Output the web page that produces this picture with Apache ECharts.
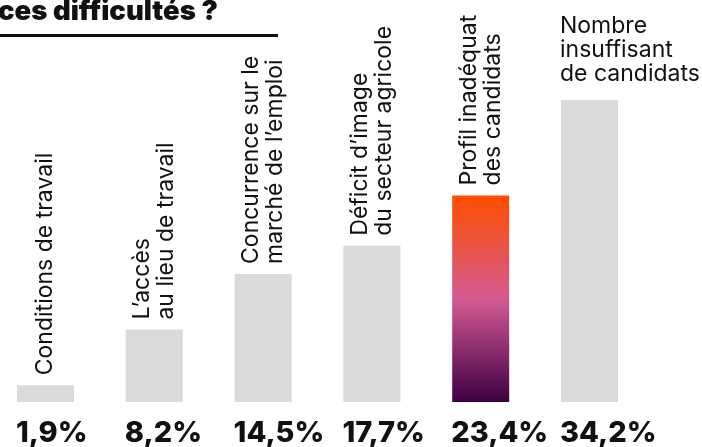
<!DOCTYPE html>
<html>
<head>
<meta charset="utf-8">
<style>
  html, body { margin: 0; padding: 0; background: #ffffff; }
  #chart { width: 702px; height: 447px; }
</style>
<script src="https://cdn.jsdelivr.net/npm/echarts@6/dist/echarts.min.js"></script>
</head>
<body>
<div id="chart"></div>
<script>
// Reasons given for the recruitment difficulties (share of answers, %)
const categories = [
  "Conditions de travail",
  "L\u2019accès\nau lieu de travail",
  "Concurrence sur le\nmarché de l\u2019emploi",
  "Déficit d\u2019image\ndu secteur agricole",
  "Profil inadéquat\ndes candidats",
  "Nombre\ninsuffisant\nde candidats"
];
const shares = [1.9, 8.2, 14.5, 17.7, 23.4, 34.2];
const highlightIndex = 4;
const headline = "ces difficultés ?";

const grey = "#dadada";
const ink = "#111111";

const chart = echarts.init(document.getElementById("chart"), null, { renderer: "canvas" });

const fmtPct = v => v.toFixed(1).replace(".", ",") + "%";

const mainData = shares.map((v, i) => {
  const item = { value: v };
  if (i === highlightIndex) {
    item.itemStyle = {
      color: new echarts.graphic.LinearGradient(0, 0, 0, 1, [
        { offset: 0, color: "#ff4d00" },
        { offset: 0.25, color: "#ea5446" },
        { offset: 0.5, color: "#d45b92" },
        { offset: 0.75, color: "#8a2c6c" },
        { offset: 1, color: "#3c0042" }
      ])
    };
  }
  if (i === categories.length - 1) {
    // last label reads horizontally, sitting above the bar's left edge
    item.label = {
      rotate: 0,
      position: [-1, -14],
      align: "left",
      verticalAlign: "bottom"
    };
  }
  return item;
});

chart.setOption({
  backgroundColor: "#ffffff",
  animation: false,
  // columns are centred on the axis points (first at the left edge, last at the right)
  grid: { left: 45.5, right: 112.5, top: 48.8, bottom: 45, containLabel: false },
  xAxis: {
    type: "category",
    data: categories,
    boundaryGap: false,
    axisLine: { show: false },
    axisTick: { show: false },
    axisLabel: { show: false }
  },
  yAxis: {
    type: "value",
    min: 0,
    max: 40,
    show: false,
    splitLine: { show: false }
  },
  graphic: [
    {
      type: "text",
      left: -2,
      top: -2,
      style: {
        text: headline,
        font: "900 27.5px Inter, 'Noto Sans', sans-serif",
        fill: ink
      }
    },
    {
      type: "rect",
      shape: { x: 0, y: 34, width: 278, height: 3 },
      style: { fill: ink }
    }
  ],
  series: [
    {
      type: "bar",
      data: mainData,
      barWidth: 57,
      itemStyle: { color: grey },
      label: {
        show: true,
        formatter: p => categories[p.dataIndex],
        position: "top",
        distance: 10,
        rotate: 90,
        align: "left",
        verticalAlign: "middle",
        fontFamily: "Inter, 'Noto Sans', sans-serif",
        fontSize: 23,
        lineHeight: 24,
        color: ink
      }
    },
    {
      // transparent twin bars carrying the value labels under each column
      type: "bar",
      data: shares,
      barWidth: 57,
      barGap: "-100%",
      silent: true,
      itemStyle: { color: "rgba(0,0,0,0)" },
      label: {
        show: true,
        formatter: p => fmtPct(p.value),
        position: [-1, "100%"],
        offset: [0, 31],
        align: "left",
        verticalAlign: "middle",
        fontFamily: "Inter, 'Noto Sans', sans-serif",
        fontWeight: 800,
        fontSize: 29,
        color: ink
      }
    }
  ]
});
</script>
</body>
</html>
